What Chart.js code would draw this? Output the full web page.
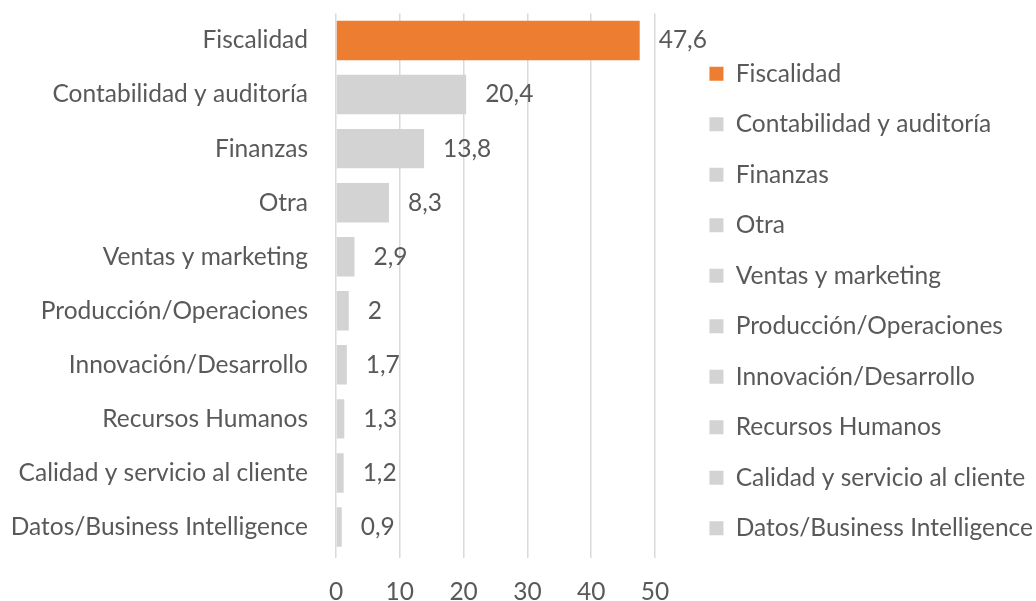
<!DOCTYPE html>
<html>
<head>
<meta charset="utf-8">
<script src="https://cdn.jsdelivr.net/npm/chart.js@4"></script>
<style>
  html, body { margin: 0; padding: 0; background: #ffffff; }
  #wrap { width: 1036px; height: 601px; position: relative; }
</style>
</head>
<body>
<div id="wrap"><canvas id="c" width="1036" height="601"></canvas></div>
<script>
const categories = [
  "Fiscalidad",
  "Contabilidad y auditoría",
  "Finanzas",
  "Otra",
  "Ventas y marketing",
  "Producción/Operaciones",
  "Innovación/Desarrollo",
  "Recursos Humanos",
  "Calidad y servicio al cliente",
  "Datos/Business Intelligence"
];
const values = [47.6, 20.4, 13.8, 8.3, 2.9, 2, 1.7, 1.3, 1.2, 0.9];
const xTickValues = [0, 10, 20, 30, 40, 50];

const ORANGE = "#ED7D31";
const GRAY = "#D3D3D3";
const TEXT = "#595959";
const FONT_FAMILY = "Lato, sans-serif";
const FONT_SIZE = 24.5;

const colorFor = i => (i === 0 ? ORANGE : GRAY);
const fmt = v => String(v).replace(".", ",");

const dataLabels = {
  id: "dataLabels",
  afterDatasetsDraw(chart) {
    const ctx = chart.ctx;
    const meta = chart.getDatasetMeta(0);
    ctx.save();
    ctx.font = FONT_SIZE + "px " + FONT_FAMILY;
    ctx.fillStyle = TEXT;
    ctx.textAlign = "left";
    ctx.textBaseline = "middle";
    meta.data.forEach((bar, i) => {
      ctx.fillText(fmt(values[i]), bar.x + 19, bar.y);
    });
    ctx.restore();
  }
};

const chart = new Chart(document.getElementById("c"), {
  type: "bar",
  data: {
    labels: categories,
    datasets: [{
      data: values,
      backgroundColor: ctx => colorFor(ctx.dataIndex),
      borderWidth: 0,
      categoryPercentage: 1,
      barPercentage: 0.73
    }]
  },
  plugins: [dataLabels],
  options: {
    indexAxis: "y",
    responsive: false,
    animation: false,
    layout: { padding: { top: 13.5, bottom: 0, left: 0, right: -7 } },
    font: { family: FONT_FAMILY, size: FONT_SIZE },
    color: TEXT,
    plugins: {
      tooltip: { enabled: false },
      legend: {
        position: "right",
        align: "start",
        maxWidth: 420,
        title: { display: true, text: "", font: { size: 10, lineHeight: 1.2 }, padding: { top: 5, bottom: 5 } },
        labels: {
          boxWidth: 14,
          boxHeight: 14,
          padding: 26,
          color: TEXT,
          font: { family: FONT_FAMILY, size: FONT_SIZE },
          generateLabels: chart => categories.map((c, i) => ({
            text: c,
            fillStyle: colorFor(i),
            strokeStyle: colorFor(i),
            lineWidth: 0,
            fontColor: TEXT,
            hidden: false,
            index: i
          }))
        }
      }
    },
    scales: {
      x: {
        type: "linear",
        min: 0,
        max: 55,
        afterBuildTicks: s => { s.ticks = xTickValues.map(v => ({ value: v })); },
        afterFit: s => { s.height = 47; },
        grid: { color: "#D9D9D9", lineWidth: 1.5, drawTicks: true, tickLength: 4, tickColor: "#D9D9D9" },
        border: { display: false },
        ticks: {
          color: TEXT,
          padding: 19,
          font: { family: FONT_FAMILY, size: FONT_SIZE },
          callback: v => String(v)
        }
      },
      y: {
        afterFit: s => { s.width = 336; s.paddingTop = 0; s.paddingBottom = 0; },
        grid: { display: false, drawTicks: false },
        border: { display: false },
        ticks: {
          color: TEXT,
          padding: 28,
          font: { family: FONT_FAMILY, size: FONT_SIZE }
        }
      }
    }
  }
});

// Place the "50" gridline where the reference has it (plot width for 0..50 is 319px)
const area = chart.chartArea;
chart.options.scales.x.max = 50 * (area.right - area.left) / 319;
chart.update();
</script>
</body>
</html>
